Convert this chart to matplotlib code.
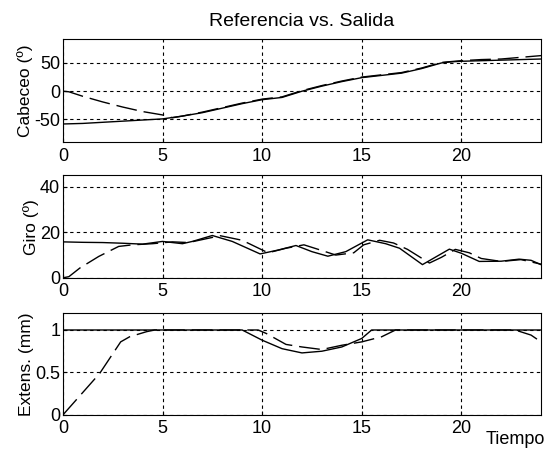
#Referencia vs. Salida - tres señales (cabeceo, giro, extension)
from matplotlib import pyplot as plt

plt.rcParams['font.family'] = ['Liberation Sans', 'DejaVu Sans']

#Cabeceo: referencia (continua) y salida (discontinua)
t_cab_ref = [0, 1, 2, 3, 4, 5, 6, 7, 8, 9, 10, 11, 12, 13, 14, 15, 16, 17, 18, 19, 19.5, 20, 21, 22, 23, 24]
cab_ref = [-58, -57, -55, -53, -51, -49, -44, -38, -30, -22, -15, -11, 0, 9, 17, 24, 28, 32, 40, 50, 52, 53, 54, 55, 56, 57]
t_cab_sal = [0, 0.3, 1, 2, 3, 4, 5, 5.5, 6, 7, 8, 9, 10, 11, 12, 13, 14, 15, 16, 17, 18, 19, 20, 21, 22, 23, 24]
cab_sal = [0, -1, -9, -19, -28, -36, -42, -47, -44, -37, -29, -21, -14, -10, 1, 10, 18, 25, 29, 33, 41, 51, 54, 56, 57, 60, 63]

#Giro
t_giro_ref = [0, 1, 2, 3, 4, 5, 6, 6.5, 7.5, 8.5, 9.9, 10.8, 11.7, 12.5, 13.3, 14.2, 15.3, 16.2, 16.9, 18.05,
              19.4, 20, 20.9, 22, 22.9, 23.5, 24]
giro_ref = [15.8, 15.6, 15.5, 15.2, 14.8, 16, 15, 16, 18.6, 16, 10.5, 12.2, 14.2, 11.5, 9.5, 11.5, 16.7, 15, 13, 5.8,
            12.6, 10.8, 7.2, 7.3, 8.2, 7.7, 5.8]
t_giro_sal = [0, 0.3, 0.85, 1.8, 2.8, 3.5, 4.5, 5.5, 6.3, 7.9, 9, 10.3, 11.2, 12.1, 13, 13.7, 14.6, 15.1, 15.9, 16.6,
              17.3, 18.4, 19.0, 19.7, 20.4, 21, 22, 23, 24]
giro_sal = [0, 0.5, 4.3, 9.4, 13.8, 14.5, 15, 15.8, 15.5, 18.5, 16.5, 11, 13, 14.5, 12, 10, 11, 14.5, 16.5, 15.3,
            12.5, 6.5, 9, 12.5, 11, 8.5, 7.2, 8, 6]

#Extension
t_ext_ref = [0, 9, 10, 11, 12, 13, 14, 15, 15.5, 24]
ext_ref = [1, 1, 0.88, 0.78, 0.73, 0.75, 0.8, 0.9, 1, 1]
t_ext_sal = [0, 1.85, 2.9, 3.35, 4.2, 4.6, 9.8, 10.2, 11.2, 12, 13, 14, 15, 16, 16.7, 22.7, 23.5, 24]
ext_sal = [0, 0.49, 0.86, 0.92, 0.98, 1, 1, 0.96, 0.83, 0.8, 0.77, 0.82, 0.86, 0.92, 1, 1, 0.94, 0.86]

xticks = [0, 5, 10, 15, 20]

fig = plt.figure(figsize=(5.47, 4.51), dpi=100)
ax1 = fig.add_axes([0.115, 0.685, 0.874, 0.228])
ax2 = fig.add_axes([0.115, 0.384, 0.874, 0.227])
ax3 = fig.add_axes([0.115, 0.080, 0.874, 0.226])

paneles = [
    (ax1, t_cab_ref, cab_ref, t_cab_sal, cab_sal, (-90, 92), [-50, 0, 50], ['-50', '0', '50'], 'Cabeceo (º)'),
    (ax2, t_giro_ref, giro_ref, t_giro_sal, giro_sal, (0, 45), [0, 20, 40], ['0', '20', '40'], 'Giro (º)'),
    (ax3, t_ext_ref, ext_ref, t_ext_sal, ext_sal, (0, 1.2), [0, 0.5, 1], ['0', '0.5', '1'], 'Extens. (mm)'),
]

for ax, tr, yr, ts, ys, ylim, yt, ytl, lab in paneles:
    ax.plot(tr, yr, c='black', lw=1.0)
    ax.plot(ts, ys, c='black', lw=1.0, linestyle=(0, (15, 5)))
    ax.set_xlim(0, 24)
    ax.set_ylim(*ylim)
    ax.set_xticks(xticks)
    ax.set_yticks(yt)
    ax.set_yticklabels(ytl)
    ax.grid(True, color='black', lw=0.8, linestyle=(0, (3, 3)))
    ax.tick_params(axis='both', direction='in', length=3, labelsize=13, colors='black')
    ax.tick_params(axis='x', pad=4)
    ax.tick_params(axis='y', pad=2)
    ax.set_ylabel(lab, fontsize=12.5, labelpad=1)
    for s in ax.spines.values():
        s.set_color('black')
        s.set_linewidth(0.8)

fig.text(302/547, 1 - 22/451, 'Referencia vs. Salida', ha='center', va='center', fontsize=14)
fig.text(545/547, 1 - 440/451, 'Tiempo', ha='right', va='center', fontsize=13)

plt.savefig('out.png', dpi=100)
